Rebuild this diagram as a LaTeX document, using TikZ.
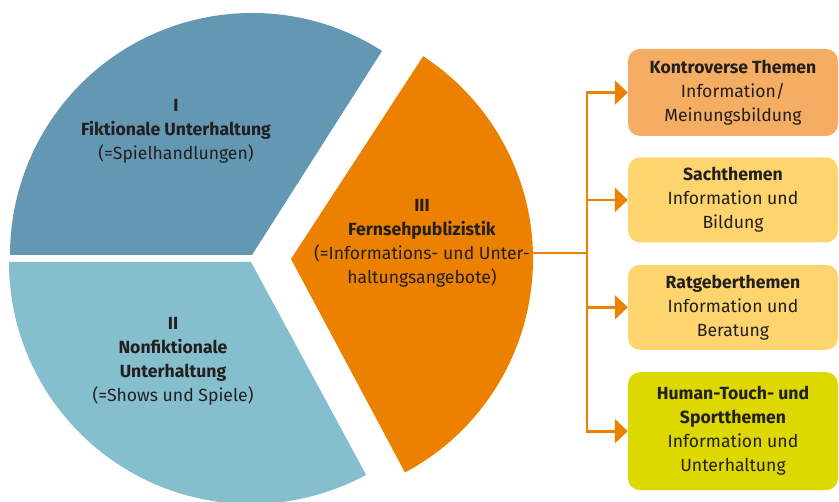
\documentclass[tikz,border=0pt]{standalone}
\usepackage{fontspec}
\setmainfont{Fira Sans}
\usetikzlibrary{arrows.meta,positioning,calc}
\definecolor{fiktionblue}{RGB}{100,151,178}
\definecolor{showblue}{RGB}{133,191,205}
\definecolor{publizorange}{RGB}{236,129,0}
\definecolor{themeorange}{RGB}{244,173,98}
\definecolor{themeyellow}{RGB}{253,212,110}
\definecolor{themelime}{RGB}{220,216,0}
\definecolor{textdark}{RGB}{35,31,32}

\begin{document}
\begin{tikzpicture}[x=1pt, y=1pt,
    txt/.style={align=center, text=textdark, font=\fontsize{17.6}{24}\selectfont},
    themebox/.style={txt, rounded corners=12pt, minimum width=210pt, inner sep=0pt},
    link/.style={publizorange, line width=2.7pt},
    linkarrow/.style={link, -{Triangle[length=13pt 0 0,width=24pt 0 0]}}]
    \useasboundingbox (0,0) rectangle (839,502);

    % Sectors
    \fill[fiktionblue] (252,247) -- ++(57.5:242) arc[start angle=57.5, end angle=180, radius=242] -- cycle;
    \fill[showblue] (251,240) -- ++(180:242) arc[start angle=180, end angle=298.4, radius=242] -- cycle;
    \fill[publizorange] (291,243) -- ++(-61.9:242) arc[start angle=-61.9, end angle=56.9, radius=242] -- cycle;

    % Sector labels
    \node[txt] (fiktion) at (176,371) {\textbf{I}\\\textbf{Fiktionale Unterhaltung}\\(=Spielhandlungen)};
    \node[txt] (show) at (173,141) {\textbf{II}\\\textbf{Nonfiktionale}\\\textbf{Unterhaltung}\\(=Shows und Spiele)};
    \node[txt] (publiz) at (422,259) {\textbf{III}\\\textbf{Fernsehpublizistik}\\(=Informations- und Unter-\\haltungsangebote)};

    % Boxes
    \node[themebox, fill=themeorange, minimum height=87pt] (kontrovers) at (733,409.5)
        {\textbf{Kontroverse Themen}\\Information/\\Meinungsbildung};
    \node[themebox, fill=themeyellow, minimum height=85pt, below=21pt of kontrovers] (sach)
        {\textbf{Sachthemen}\\Information und\\Bildung};
    \node[themebox, fill=themeyellow, minimum height=85pt, below=22pt of sach] (ratgeber)
        {\textbf{Ratgeberthemen}\\Information und\\Beratung};
    \node[themebox, fill=themelime, minimum height=118pt, below=22pt of ratgeber] (human)
        {\textbf{Human-Touch- und}\\\textbf{Sportthemen}\\Information und\\Unterhaltung};

    % Connections
    \coordinate (pieedge) at (533,249);
    \coordinate (fork) at (587,249);
    \draw[link] (pieedge) -- (fork);
    \foreach \target in {kontrovers,sach,ratgeber,human}
        \draw[linkarrow] (fork) |- (\target.west);
\end{tikzpicture}
\end{document}
